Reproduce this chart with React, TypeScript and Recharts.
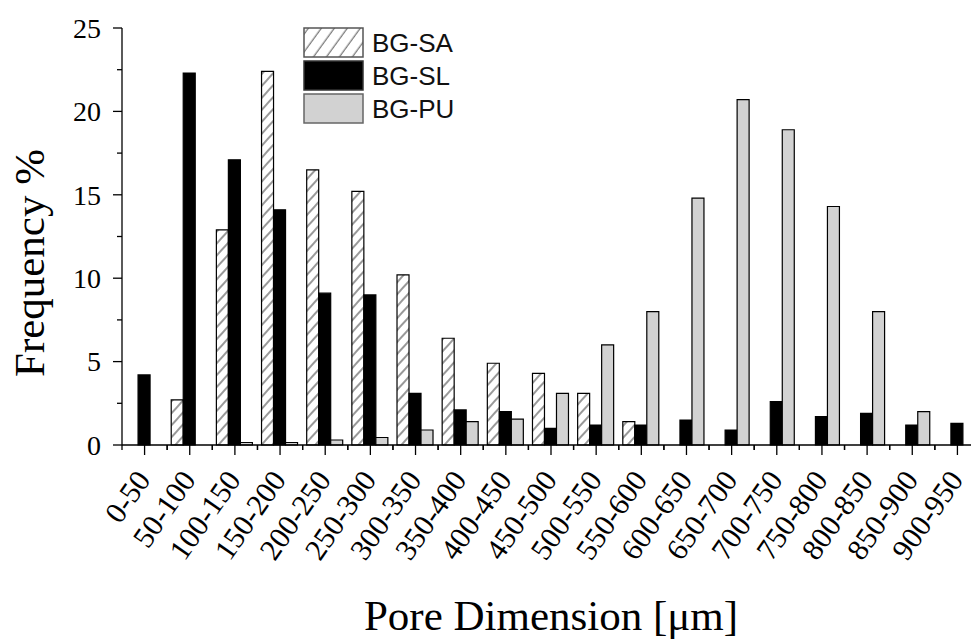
import React from 'react';
import { BarChart, Bar, XAxis, YAxis, Legend } from 'recharts';

const ranges = [
  '0-50', '50-100', '100-150', '150-200', '200-250', '250-300', '300-350', '350-400',
  '400-450', '450-500', '500-550', '550-600', '600-650', '650-700', '700-750', '750-800',
  '800-850', '850-900', '900-950',
];
const bgSA = [0, 2.7, 12.9, 22.4, 16.5, 15.2, 10.2, 6.4, 4.9, 4.3, 3.1, 1.4, 0, 0, 0, 0, 0, 0, 0];
const bgSL = [4.2, 22.3, 17.1, 14.1, 9.1, 9.0, 3.1, 2.1, 2.0, 1.0, 1.2, 1.2, 1.5, 0.9, 2.6, 1.7, 1.9, 1.2, 1.3];
const bgPU = [0, 0, 0.15, 0.15, 0.3, 0.45, 0.9, 1.4, 1.55, 3.1, 6.0, 8.0, 14.8, 20.7, 18.9, 14.3, 8.0, 2.0, 0];
const yTicks = [0, 2.5, 5, 7.5, 10, 12.5, 15, 17.5, 20, 22.5, 25];

const data = ranges.map((range, i) => ({ range, sa: bgSA[i], sl: bgSL[i], pu: bgPU[i] }));

const SERIF = '"Liberation Serif", "Times New Roman", serif';
const SANS = '"Liberation Sans", Arial, sans-serif';
const PLOT_W = 858;
const BAND = PLOT_W / ranges.length;

const YTick = (props: any) => {
  const { x, y, payload } = props;
  const major = payload.value % 5 === 0;
  return (
    <g>
      <line x1={x} x2={x - (major ? 9 : 5)} y1={y} y2={y} stroke="#000" strokeWidth={1.3} />
      {major && (
        <text x={x - 21} y={y} dy="0.35em" textAnchor="end" fontFamily={SERIF} fontSize={28} fill="#000">
          {payload.value}
        </text>
      )}
    </g>
  );
};

const XTick = (props: any) => {
  const { x, y, payload } = props;
  const tx = x + 7;
  const ty = y + 35;
  return (
    <g>
      <line x1={x} x2={x} y1={y} y2={y + 10} stroke="#000" strokeWidth={1.3} />
      <line x1={x - BAND / 2} x2={x - BAND / 2} y1={y} y2={y + 5} stroke="#000" strokeWidth={1.3} />
      <line x1={x + BAND / 2} x2={x + BAND / 2} y1={y} y2={y + 5} stroke="#000" strokeWidth={1.3} />
      <text x={tx} y={ty} textAnchor="end" transform={`rotate(-55, ${tx}, ${ty})`} fontFamily={SERIF} fontSize={30} fill="#000">
        {payload.value}
      </text>
    </g>
  );
};

const legendRows = [
  { label: 'BG-SA', fill: 'url(#hatchLegend)', stroke: '#555' },
  { label: 'BG-SL', fill: '#000', stroke: '#333' },
  { label: 'BG-PU', fill: '#d2d2d2', stroke: '#666' },
];

const LegendBox = () => (
  <svg width={200} height={100}>
    <defs>
      <pattern id="hatchLegend" width={10.5} height={10.5} patternUnits="userSpaceOnUse" patternTransform="rotate(36)">
        <rect width={10.5} height={10.5} fill="#fff" />
        <line x1={5} x2={5} y1={0} y2={10.5} stroke="#555" strokeWidth={1} />
      </pattern>
    </defs>
    {legendRows.map((r, i) => (
      <g key={r.label}>
        <rect x={1} y={1 + i * 33} width={59} height={29} fill={r.fill} stroke={r.stroke} strokeWidth={1.5} />
        <text x={69} y={16 + i * 33} dy="0.36em" fontFamily={SANS} fontSize={26} fill="#111">
          {r.label}
        </text>
      </g>
    ))}
  </svg>
);

export default function App() {
  return (
    <div style={{ position: 'fixed', left: 0, top: 0, width: 971, height: 639, overflow: 'hidden', background: '#fff' }}>
      <BarChart
        width={990}
        height={639}
        data={data}
        margin={{ top: 28, right: 10, left: 0, bottom: 0 }}
        barCategoryGap="9%"
        barGap={0}
      >
        <defs>
          <pattern id="hatchBar" width={8} height={8} patternUnits="userSpaceOnUse" patternTransform="rotate(42)">
            <rect width={8} height={8} fill="#fff" />
            <line x1={4} x2={4} y1={0} y2={8} stroke="#333" strokeWidth={1} />
          </pattern>
        </defs>
        <XAxis
          dataKey="range"
          height={194}
          interval={0}
          tickSize={0}
          tickMargin={0}
          tickLine={false}
          axisLine={{ stroke: '#000', strokeWidth: 1.3 }}
          tick={<XTick />}
          label={{
            content: () => (
              <text x={551} y={630} textAnchor="middle" fontFamily={SERIF} fontSize={43} fill="#000">
                Pore Dimension [μm]
              </text>
            ),
          }}
        />
        <YAxis
          type="number"
          domain={[0, 25]}
          ticks={yTicks}
          width={122}
          tickSize={0}
          tickMargin={0}
          tickLine={false}
          axisLine={{ stroke: '#000', strokeWidth: 1.3 }}
          tick={<YTick />}
          label={{
            content: () => (
              <text x={44} y={263} transform="rotate(-90, 44, 263)" textAnchor="middle" fontFamily={SERIF} fontSize={43} fill="#000">
                Frequency %
              </text>
            ),
          }}
        />
        <Legend
          layout="vertical"
          align="center"
          verticalAlign="middle"
          wrapperStyle={{ left: 303, top: 27, width: 200, height: 100 }}
          content={() => <LegendBox />}
        />
        <Bar dataKey="sa" name="BG-SA" fill="url(#hatchBar)" stroke="#000" strokeWidth={1.2} isAnimationActive={false} />
        <Bar dataKey="sl" name="BG-SL" fill="#000" stroke="#000" strokeWidth={1.2} isAnimationActive={false} />
        <Bar dataKey="pu" name="BG-PU" fill="#d2d2d2" stroke="#000" strokeWidth={1.2} isAnimationActive={false} />
      </BarChart>
    </div>
  );
}
